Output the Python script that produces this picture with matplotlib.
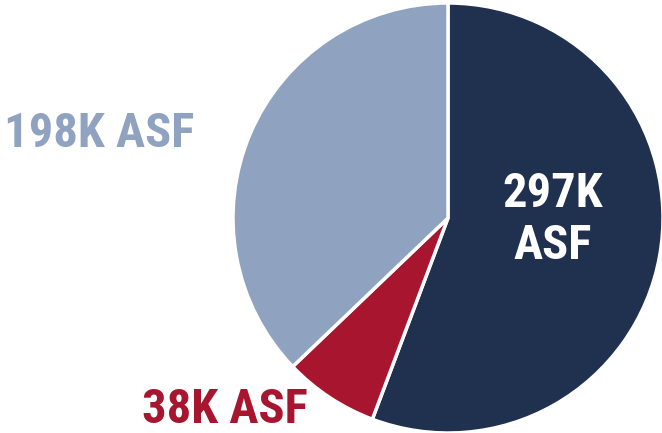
import matplotlib.pyplot as plt
from matplotlib import font_manager

# data
labels = ["297K\nASF", "38K ASF", "198K ASF"]
values = [297, 38, 198]
colors = ["#20304f", "#a8152f", "#8fa3c0"]

names = {f.name for f in font_manager.fontManager.ttflist}
fam = ["Liberation Sans Narrow", "Roboto Condensed", "DejaVu Sans"]
fam = [f for f in fam if f in names] or ["DejaVu Sans"]

W, H = 662, 433
fig = plt.figure(figsize=(W / 100, H / 100), dpi=100)
fig.patch.set_facecolor("white")

# pie centre ~ (448, 218) px, radius ~ 215 px
cx, cy, r = 448, 218, 215
ax = fig.add_axes([(cx - r) / W, (H - cy - r) / H, 2 * r / W, 2 * r / H])
ax.pie(values, colors=colors, startangle=90, counterclock=False,
       wedgeprops=dict(edgecolor="white", linewidth=2.5, clip_on=False))
ax.set_xlim(-1, 1)
ax.set_ylim(-1, 1)
ax.set_aspect("equal")
ax.axis("off")

def px(x, y):
    return x / W, 1 - y / H

fig.text(*px(553, 220), labels[0], color="white", fontsize=35, fontweight="bold",
         family=fam, ha="center", va="center", linespacing=1.15)
fig.text(*px(225, 410), labels[1], color=colors[1], fontsize=35, fontweight="bold",
         family=fam, ha="center", va="center")
fig.text(*px(99, 134), labels[2], color=colors[2], fontsize=35, fontweight="bold",
         family=fam, ha="center", va="center")

fig.savefig("out.png", dpi=100)
